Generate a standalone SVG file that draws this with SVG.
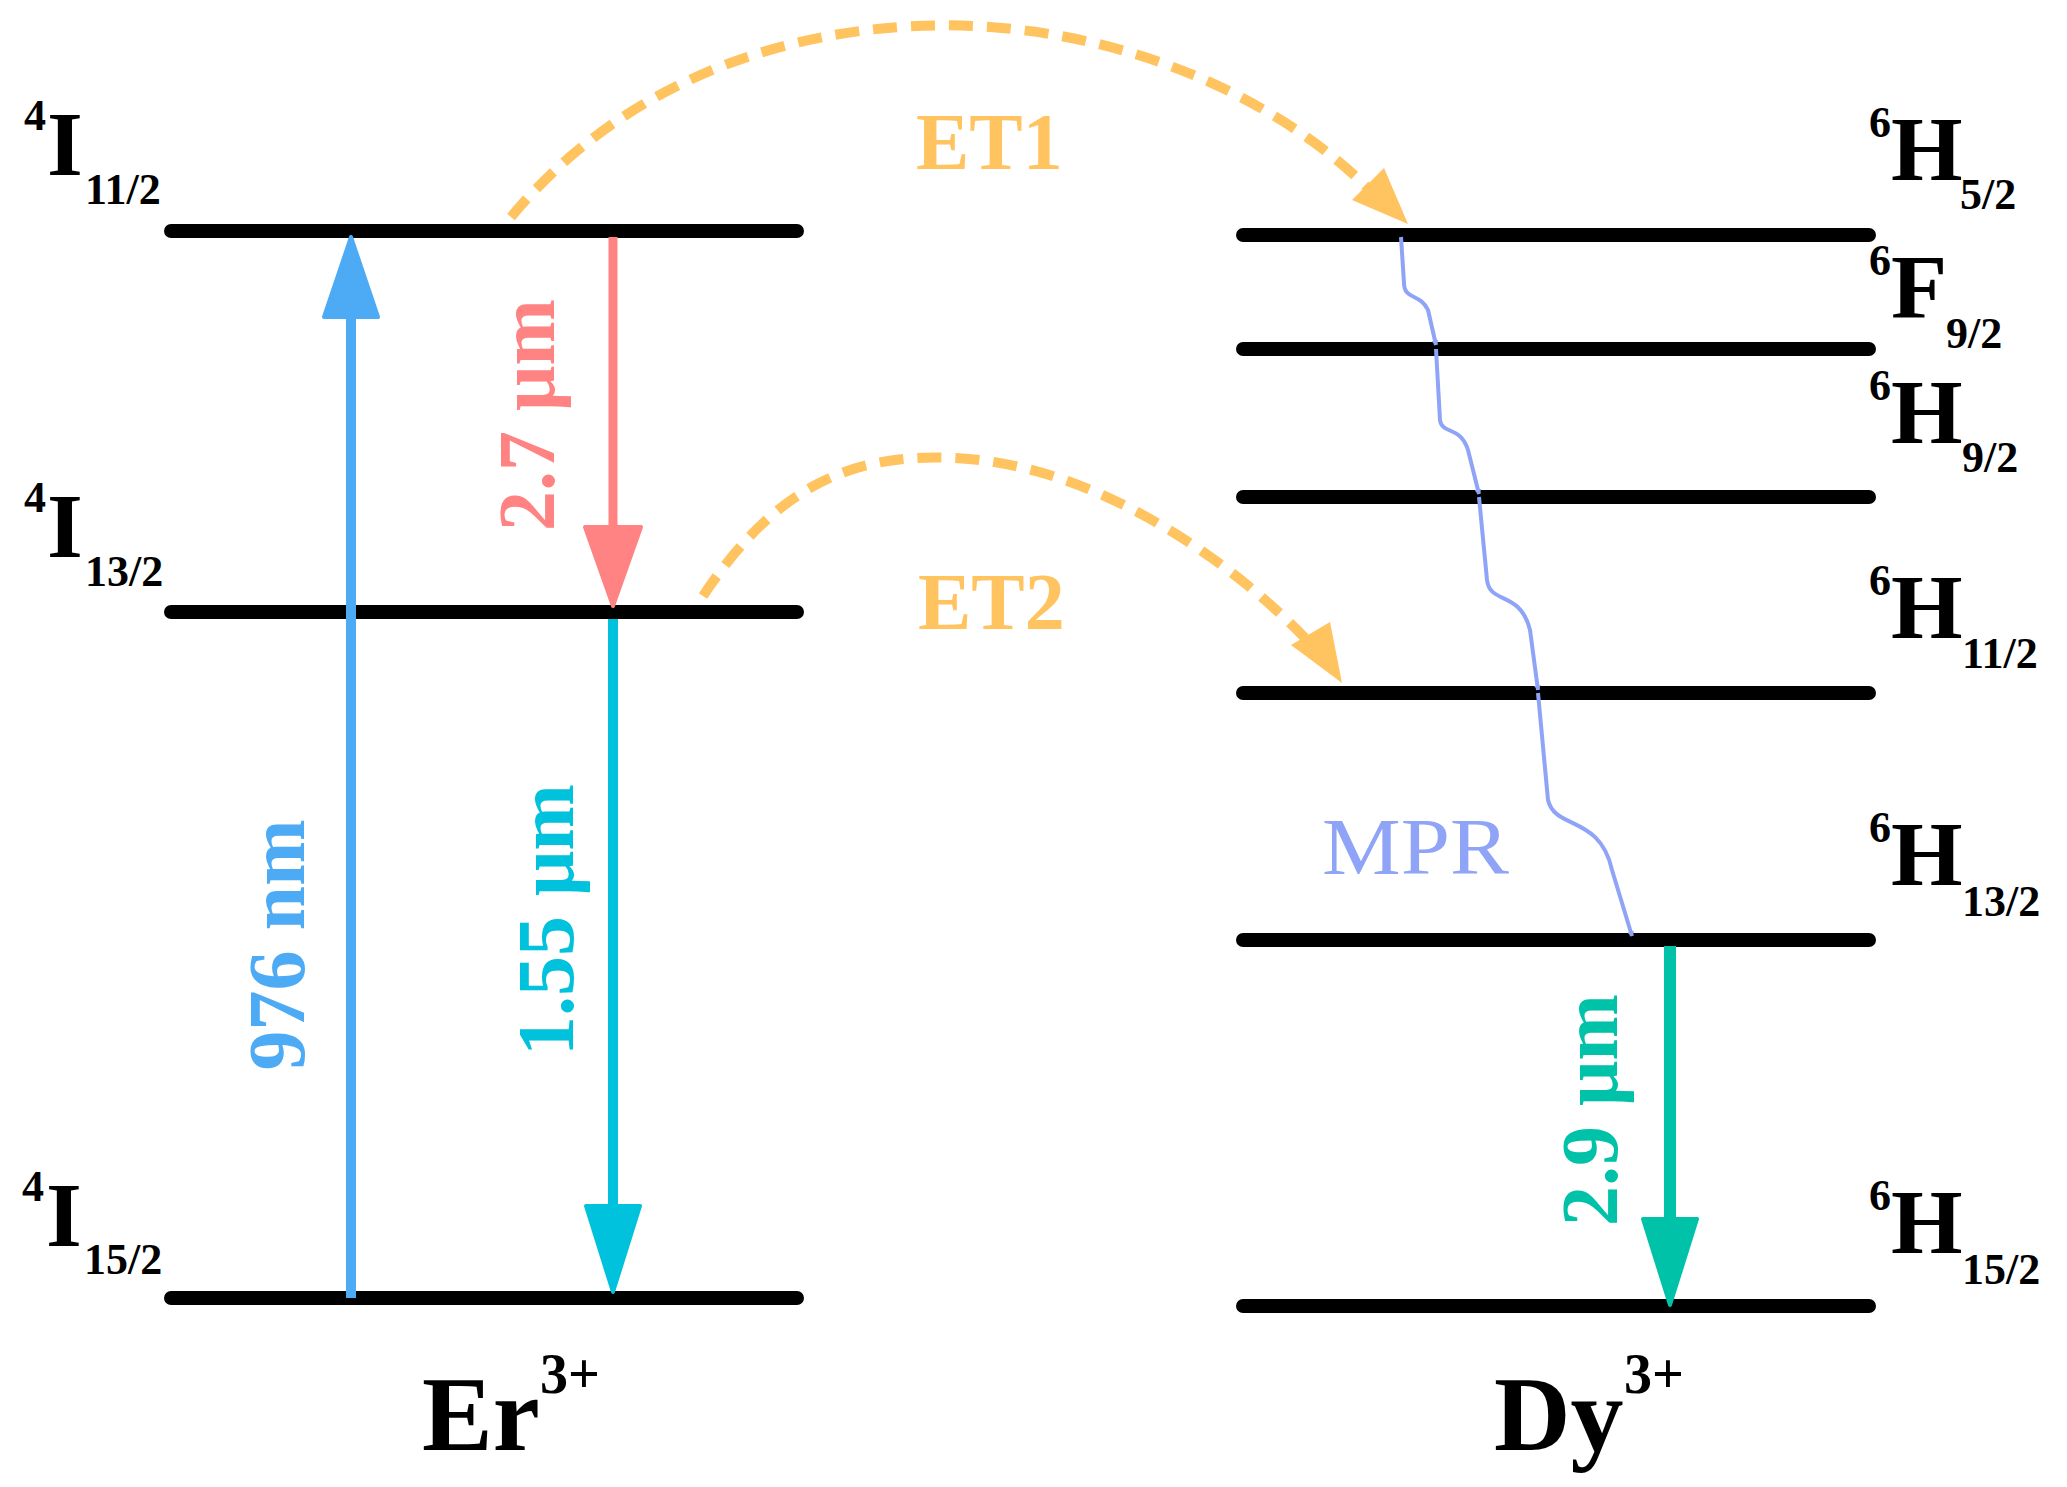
<svg xmlns="http://www.w3.org/2000/svg" width="2067" height="1487" viewBox="0 0 2067 1487">
<style>
.lv{stroke:#000;stroke-width:14;stroke-linecap:round}
.t{font-family:"Liberation Serif",serif;font-weight:bold}
.big{font-size:92px}
.sm{font-size:44px}
.lab{font-size:80px}
.et{fill:none;stroke:#FFC35F;stroke-width:10;stroke-dasharray:24 14}
.mpr{fill:none;stroke:#8FA4F7;stroke-width:4}
</style>
<defs>
<marker id="ma" viewBox="0 0 10 10" refX="9" refY="5" markerWidth="5" markerHeight="7" markerUnits="userSpaceOnUse" orient="auto" preserveAspectRatio="none"><path d="M0,0 L10,5 L0,10 Z" fill="#8FA4F7"/></marker>
</defs>
<rect width="2067" height="1487" fill="#fff"/>
<g id="er-levels">
<line class="lv" x1="171" y1="231" x2="797" y2="231"/>
<line class="lv" x1="171" y1="612" x2="797" y2="612"/>
<line class="lv" x1="171" y1="1298" x2="797" y2="1298"/>
</g>
<g id="dy-levels">
<line class="lv" x1="1243" y1="235" x2="1869" y2="235"/>
<line class="lv" x1="1243" y1="349" x2="1869" y2="349"/>
<line class="lv" x1="1243" y1="497" x2="1869" y2="497"/>
<line class="lv" x1="1243" y1="693" x2="1869" y2="693"/>
<line class="lv" x1="1243" y1="940" x2="1869" y2="940"/>
<line class="lv" x1="1243" y1="1306" x2="1869" y2="1306"/>
</g>
<g id="connectors">
<line x1="351" y1="1298" x2="351" y2="310" stroke="#4DAAF5" stroke-width="10"/>
<polygon points="351,237 378,317 324,317" fill="#4DAAF5" stroke="#4DAAF5" stroke-width="4" stroke-linejoin="round"/>
<line x1="613" y1="237" x2="613" y2="535" stroke="#FF8383" stroke-width="9"/>
<polygon points="613,606 641,527 585,527" fill="#FF8383" stroke="#FF8383" stroke-width="4" stroke-linejoin="round"/>
<line x1="613" y1="619" x2="613" y2="1215" stroke="#00C2DC" stroke-width="10"/>
<polygon points="613,1292 640,1206 586,1206" fill="#00C2DC" stroke="#00C2DC" stroke-width="4" stroke-linejoin="round"/>
<line x1="1670" y1="946" x2="1670" y2="1228" stroke="#00C2A8" stroke-width="12"/>
<polygon points="1670,1305 1697,1219 1643,1219" fill="#00C2A8" stroke="#00C2A8" stroke-width="4" stroke-linejoin="round"/>
<path class="et" d="M511,217 C650,50 850,20 975,26 C1150,35 1290,110 1370,190"/>
<polygon points="1408,224 1352,200 1384,168" fill="#FFC35F"/>
<path class="et" d="M703,596 C780,480 860,450 969,459 C1100,470 1230,560 1305,638"/>
<polygon points="1342,683 1291,645 1330,622" fill="#FFC35F"/>
<path class="mpr" marker-end="url(#ma)" d="M1401,237 L1404,283 C1404,300 1420,293 1428,310 L1436,345"/>
<path class="mpr" marker-end="url(#ma)" d="M1436,349 L1440,420 C1442,435 1460,425 1468,450 L1479,494"/>
<path class="mpr" marker-end="url(#ma)" d="M1479,497 L1487,580 C1490,605 1520,590 1530,630 L1538,690"/>
<path class="mpr" marker-end="url(#ma)" d="M1538,693 L1548,800 C1555,830 1600,815 1612,870 L1632,936"/>
</g>
<g id="transition-labels" class="t lab" text-anchor="middle" dominant-baseline="central">
<text transform="translate(527,415) rotate(-90)" fill="#FF8383">2.7 μm</text>
<text transform="translate(277,945) rotate(-90)" fill="#4DAAF5">976 nm</text>
<text transform="translate(546,920) rotate(-90)" fill="#00C2DC">1.55 μm</text>
<text transform="translate(1590,1110) rotate(-90)" fill="#00C2A8">2.9 μm</text>
</g>
<g id="et-labels" class="t lab" fill="#FFC35F">
<text x="916" y="169">ET1</text>
<text x="918" y="629">ET2</text>
</g>
<text id="mpr-label" x="1322" y="874" font-family="Liberation Serif, serif" font-size="80" fill="#8FA4F7" textLength="187" lengthAdjust="spacingAndGlyphs">MPR</text>
<g id="er-state-labels" class="t">
<text class="sm" x="24" y="130">4</text><text class="big" x="47" y="175">I</text><text class="sm" x="85" y="204">11/2</text>
<text class="sm" x="24" y="512">4</text><text class="big" x="47" y="557">I</text><text class="sm" x="85" y="586">13/2</text>
<text class="sm" x="22" y="1201">4</text><text class="big" x="46" y="1246">I</text><text class="sm" x="84" y="1274">15/2</text>
</g>
<g id="dy-state-labels" class="t">
<text class="sm" x="1869" y="137">6</text><text class="big" x="1891" y="180">H</text><text class="sm" x="1960" y="209">5/2</text>
<text class="sm" x="1869" y="275">6</text><text class="big" x="1891" y="318">F</text><text class="sm" x="1946" y="348">9/2</text>
<text class="sm" x="1869" y="400">6</text><text class="big" x="1891" y="443">H</text><text class="sm" x="1962" y="472">9/2</text>
<text class="sm" x="1869" y="595">6</text><text class="big" x="1891" y="638">H</text><text class="sm" x="1962" y="668">11/2</text>
<text class="sm" x="1869" y="842">6</text><text class="big" x="1891" y="885">H</text><text class="sm" x="1962" y="916">13/2</text>
<text class="sm" x="1869" y="1210">6</text><text class="big" x="1891" y="1253">H</text><text class="sm" x="1962" y="1284">15/2</text>
</g>
<g id="ion-labels" class="t">
<text x="422" y="1450" font-size="106">Er</text><text x="540" y="1393" font-size="56">3+</text>
<text x="1494" y="1450" font-size="106">Dy</text><text x="1624" y="1393" font-size="56">3+</text>
</g>
</svg>
